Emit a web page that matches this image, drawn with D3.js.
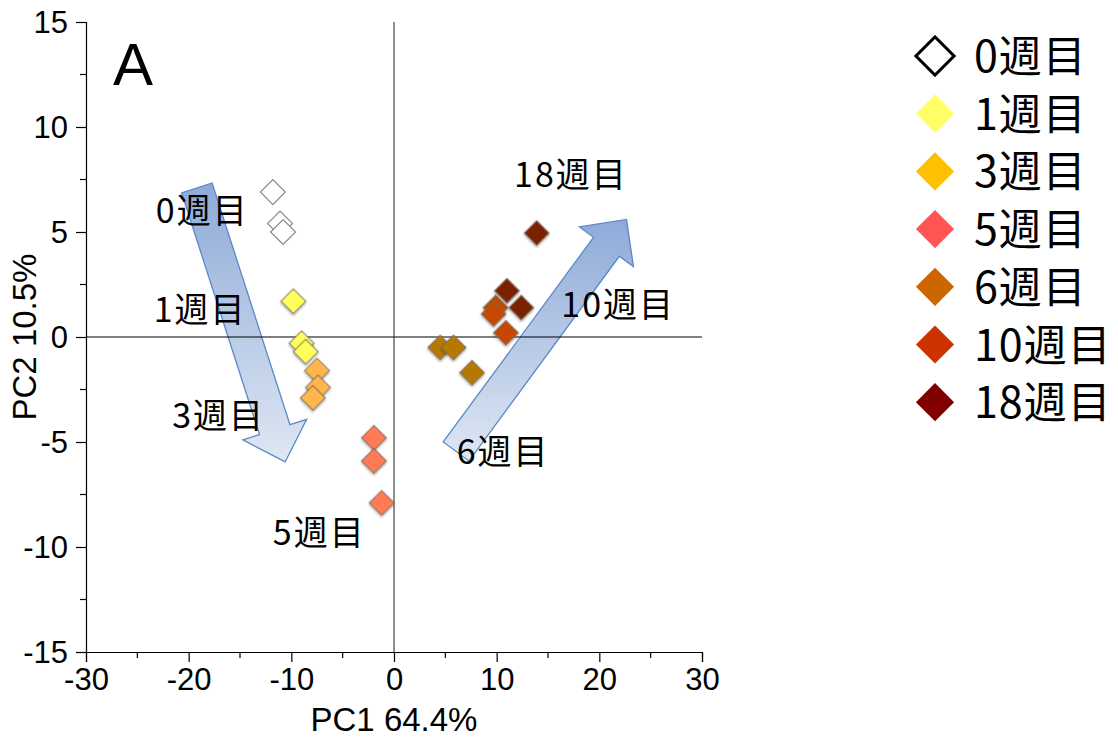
<!DOCTYPE html>
<html>
<head>
<meta charset="utf-8">
<script src="https://cdn.jsdelivr.net/npm/d3@7"></script>
<style>
  body { margin: 0; background: #fff; }
  svg { display: block; }
</style>
</head>
<body>
<svg id="chart" width="1118" height="737"></svg>
<script>
// Groups (sampling week) and their PCA scores
const weeks = ["0週目", "1週目", "3週目", "5週目", "6週目", "10週目", "18週目"];
const pc1Scores = [
  [-11.8, -11.1, -10.8],
  [-9.8, -9.0, -8.6],
  [-7.5, -7.4, -7.9],
  [-1.95, -1.95, -1.2],
  [4.5, 5.8, 7.6],
  [9.9, 9.7, 10.9],
  [13.9, 11.0, 12.4]
];
const pc2Scores = [
  [6.9, 5.4, 5.0],
  [1.7, -0.3, -0.7],
  [-1.6, -2.4, -2.9],
  [-4.8, -5.9, -7.9],
  [-0.5, -0.5, -1.7],
  [1.4, 1.1, 0.2],
  [4.95, 2.2, 1.4]
];
const xTicks = [-30, -20, -10, 0, 10, 20, 30];
const yTicks = [-15, -10, -5, 0, 5, 10, 15];

// Trend arrows (tail -> tip) and the week labels placed beside them
const arrowTails = [[-19.2, 7.1], [6.05, -5.45]];
const arrowTips = [[-10.6, -5.95], [22.65, 5.6]];
const noteText = ["0週目", "1週目", "3週目", "5週目", "6週目", "10週目", "18週目"];
const noteX = [-23.2, -23.4, -21.6, -11.8, 6.1, 16.3, 11.7];
const noteY = [5.45, 0.7, -4.35, -9.9, -6.05, 0.95, 7.15];

const legendColors = ["#ffffff", "#ffff66", "#ffc000", "#ff5555", "#cc6600", "#cc3300", "#800000"];
const pointColors = ["#ffffff", "#ffff5c", "#ffb64d", "#ff7a55", "#b57800", "#c54600", "#7a2100"];

const svg = d3.select("#chart");
const x = d3.scaleLinear().domain([-30, 30]).range([86, 702]);
const y = d3.scaleLinear().domain([-15, 15]).range([652, 22]);

const defs = svg.append("defs");
const grad = defs.append("linearGradient").attr("id", "arrowFill")
  .attr("x1", 0).attr("y1", 0).attr("x2", 0).attr("y2", 1);
grad.append("stop").attr("offset", "0%").attr("stop-color", "#8eaad8");
grad.append("stop").attr("offset", "100%").attr("stop-color", "#dfe7f3");
const shadow = defs.append("filter").attr("id", "ptShadow")
  .attr("x", "-30%").attr("y", "-30%").attr("width", "170%").attr("height", "170%");
shadow.append("feDropShadow").attr("dx", 1).attr("dy", 1.2)
  .attr("stdDeviation", 0.8).attr("flood-color", "#000").attr("flood-opacity", 0.35);

// Block arrow outline in pixel space
function blockArrow(t, h, shaftW, headW, headL) {
  const dx = h[0] - t[0], dy = h[1] - t[1];
  const L = Math.hypot(dx, dy);
  const ux = dx / L, uy = dy / L, px = -uy, py = ux;
  const bx = t[0] + ux * (L - headL), by = t[1] + uy * (L - headL);
  const pts = [
    [t[0] + px * shaftW / 2, t[1] + py * shaftW / 2],
    [bx + px * shaftW / 2, by + py * shaftW / 2],
    [bx + px * headW / 2, by + py * headW / 2],
    [h[0], h[1]],
    [bx - px * headW / 2, by - py * headW / 2],
    [bx - px * shaftW / 2, by - py * shaftW / 2],
    [t[0] - px * shaftW / 2, t[1] - py * shaftW / 2]
  ];
  return "M" + pts.map(p => p.join(",")).join("L") + "Z";
}

svg.append("g").selectAll("path")
  .data(arrowTails.map((t, i) => [t, arrowTips[i]]))
  .join("path")
  .attr("d", d => blockArrow([x(d[0][0]), y(d[0][1])], [x(d[1][0]), y(d[1][1])], 32, 67, 34))
  .attr("fill", "url(#arrowFill)")
  .attr("stroke", "#5a89c6")
  .attr("stroke-width", 1.3)
  .attr("stroke-linejoin", "miter");

// Axes (plain hyphen for negative numbers)
const tickFont = "'Liberation Sans Narrow', 'Liberation Sans', Arial, sans-serif";
const plain = d => String(d);
const xAxis = svg.append("g").attr("transform", `translate(0,${y(-15)})`)
  .call(d3.axisBottom(x).tickValues(xTicks).tickSize(10).tickPadding(6).tickFormat(plain));
const yAxis = svg.append("g").attr("transform", `translate(${x(-30)},0)`)
  .call(d3.axisLeft(y).tickValues(yTicks).tickSize(10).tickPadding(8).tickFormat(plain));
[xAxis, yAxis].forEach(g => {
  g.select(".domain").attr("stroke", "#000").attr("stroke-width", 1.2);
  g.selectAll(".tick line").attr("stroke", "#000").attr("stroke-width", 1.2);
  g.selectAll("text").attr("font-family", tickFont).attr("font-size", 31).attr("fill", "#000");
});
yAxis.selectAll("text").attr("dy", "0.35em");
// minor ticks
svg.append("g").selectAll("line")
  .data(d3.range(-25, 30, 10)).join("line")
  .attr("x1", d => x(d)).attr("x2", d => x(d))
  .attr("y1", y(-15)).attr("y2", y(-15) + 6)
  .attr("stroke", "#000").attr("stroke-width", 1.2);
svg.append("g").selectAll("line")
  .data(d3.range(-12.5, 15, 5)).join("line")
  .attr("x1", x(-30)).attr("x2", x(-30) - 6)
  .attr("y1", d => y(d)).attr("y2", d => y(d))
  .attr("stroke", "#000").attr("stroke-width", 1.2);

// Zero lines
svg.append("line").attr("x1", x(-30)).attr("x2", x(30)).attr("y1", y(0)).attr("y2", y(0))
  .attr("stroke", "#000").attr("stroke-width", 1.1);
svg.append("line").attr("x1", x(0)).attr("x2", x(0)).attr("y1", y(15)).attr("y2", y(-15))
  .attr("stroke", "#333").attr("stroke-width", 1.1);

// Axis titles
svg.append("text").attr("x", x(0)).attr("y", 731).attr("text-anchor", "middle")
  .attr("font-family", tickFont).attr("font-size", 33).text("PC1 64.4%");
svg.append("text").attr("transform", `translate(36,${y(0)}) rotate(-90)`).attr("text-anchor", "middle")
  .attr("font-family", tickFont).attr("font-size", 33).text("PC2 10.5%");

// Panel letter
svg.append("text").attr("x", 113).attr("y", 85)
  .attr("font-family", "'Liberation Sans', Arial, sans-serif").attr("font-size", 60).text("A");

// Points
const points = weeks.flatMap((w, gi) => pc1Scores[gi].map((v, j) => ({ g: gi, x: v, y: pc2Scores[gi][j] })));
svg.append("g").selectAll("rect")
  .data(points).join("rect")
  .attr("x", -8.8).attr("y", -8.8).attr("width", 17.6).attr("height", 17.6)
  .attr("transform", d => `translate(${x(d.x)},${y(d.y)}) rotate(45)`)
  .attr("fill", d => pointColors[d.g])
  .attr("stroke", d => d.g === 0 ? "#8a8a8a" : "#7a6a5a")
  .attr("stroke-width", d => d.g === 0 ? 1.2 : 0.9)
  .attr("filter", d => d.g === 0 ? null : "url(#ptShadow)");

// Week labels inside the plot
const cjkFont = "'Noto Sans CJK JP', 'Noto Sans CJK SC', sans-serif";
svg.append("g").selectAll("text")
  .data(noteText).join("text")
  .attr("x", (d, i) => x(noteX[i])).attr("y", (d, i) => y(noteY[i]))
  .attr("font-family", cjkFont).attr("font-size", 34).attr("fill", "#000")
  .attr("letter-spacing", 2)
  .text(d => d);

// Legend
const legend = svg.append("g").attr("transform", "translate(935,56)");
const rows = legend.selectAll("g").data(weeks).join("g")
  .attr("transform", (d, i) => `translate(0,${i * 57.7})`);
rows.append("rect")
  .attr("x", -13.5).attr("y", -13.5).attr("width", 27).attr("height", 27)
  .attr("transform", "rotate(45)")
  .attr("fill", (d, i) => legendColors[i])
  .attr("stroke", (d, i) => i === 0 ? "#000" : "none")
  .attr("stroke-width", 3);
rows.append("text").attr("x", 39).attr("y", 16)
  .attr("font-family", cjkFont).attr("font-size", 43).attr("fill", "#000")
  .attr("letter-spacing", 1)
  .text(d => d);
</script>
</body>
</html>
